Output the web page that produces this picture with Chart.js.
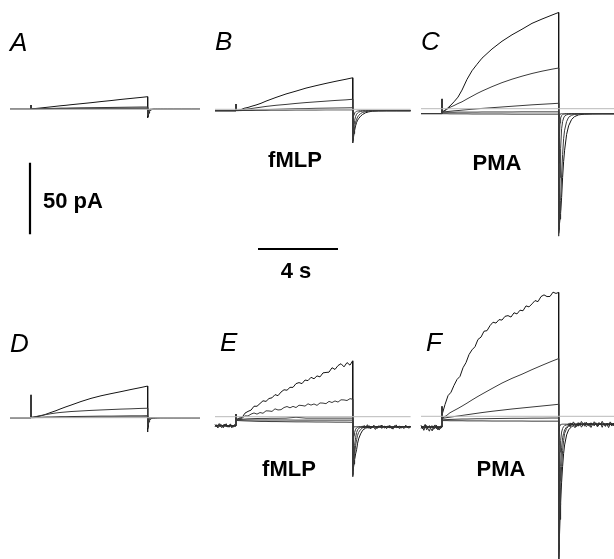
<!DOCTYPE html>
<html>
<head>
<meta charset="utf-8">
<script src="https://cdn.jsdelivr.net/npm/chart.js@4.4.1/dist/chart.umd.min.js"></script>
<style>
  html, body { margin: 0; padding: 0; background: #fff; }
  canvas { display: block; }
</style>
</head>
<body>
<canvas id="traces" width="614" height="559"></canvas>
<script>
// ---------- sample times (s) ----------
// Before the step (relative to step onset)
const PRE_T = [-1.05, -0.98, -0.91, -0.84, -0.77, -0.70, -0.63, -0.56, -0.49, -0.42, -0.35, -0.28, -0.21, -0.14, -0.07, 0];
// During the step (relative to step onset)
const PULSE_T = [0, 0.1, 0.25, 0.4, 0.6, 0.8, 1.0, 1.25, 1.5, 1.75, 2.0, 2.5, 3.0, 3.5, 4.0, 4.5, 5.0, 5.5, 5.83];
const NOISY_T = [0, 0.15, 0.3, 0.45, 0.6, 0.75, 0.9, 1.05, 1.2, 1.35, 1.5, 1.65, 1.8, 1.95, 2.1, 2.25, 2.4, 2.55, 2.7, 2.85,
                 3.0, 3.15, 3.3, 3.45, 3.6, 3.75, 3.9, 4.05, 4.2, 4.35, 4.5, 4.65, 4.8, 4.95, 5.1, 5.25, 5.4, 5.55, 5.7, 5.83];
// After the step (relative to step end)
const TAIL_T = [0, 0.01, 0.02, 0.04, 0.07, 0.1, 0.15, 0.2, 0.25, 0.3, 0.4, 0.5, 0.65, 0.8, 1.0, 1.3, 1.7, 2.2, 2.9];
const POST_T = [0.5, 0.58, 0.66, 0.74, 0.82, 0.9, 0.98, 1.06, 1.14, 1.22, 1.3, 1.38, 1.46, 1.54, 1.62, 1.7, 1.78, 1.86,
                1.94, 2.02, 2.1, 2.18, 2.26, 2.34, 2.42, 2.5, 2.58, 2.66, 2.74, 2.82, 2.9];
const STEP_END = 5.83;

// ---------- currents (pA) ----------
// A: control
const A_HOLD = 0, A_SPIKE = 3.0;
const A_PULSE_1 = [0.3, 0.4, 0.6, 0.8, 1.1, 1.4, 1.7, 2.1, 2.5, 2.8, 3.2, 3.9, 4.6, 5.4, 6.1, 6.9, 7.6, 8.3, 8.8];
const A_PULSE_2 = [0.1, 0.2, 0.3, 0.4, 0.5, 0.6, 0.6, 0.7, 0.8, 0.8, 0.9, 1.0, 1.1, 1.2, 1.3, 1.4, 1.5, 1.6, 1.6];
const A_PULSE_3 = [0.1, 0.2, 0.3, 0.4, 0.4, 0.5, 0.5, 0.5, 0.6, 0.6, 0.6, 0.7, 0.7, 0.7, 0.8, 0.8, 0.8, 0.9, 0.9];
const A_PULSE_4 = [0, 0.1, 0.1, 0.2, 0.2, 0.2, 0.2, 0.3, 0.3, 0.3, 0.3, 0.3, 0.3, 0.4, 0.4, 0.4, 0.4, 0.4, 0.4];
const A_TAIL_1 = [-6.0, -5.6, -5.1, -4.0, -2.6, -1.5, -0.7, -0.3, -0.1, 0, 0, 0, 0, 0, 0, 0, 0, 0, 0];
const A_TAIL_2 = [-4.5, -3.9, -3.3, -2.3, -1.3, -0.7, -0.3, -0.1, 0, 0, 0, 0, 0, 0, 0, 0, 0, 0, 0];
const A_TAIL_3 = [-3.0, -2.4, -1.8, -1.0, -0.4, -0.2, 0, 0, 0, 0, 0, 0, 0, 0, 0, 0, 0, 0, 0];
const A_TAIL_4 = [-1.8, -1.2, -0.7, -0.3, -0.1, 0, 0, 0, 0, 0, 0, 0, 0, 0, 0, 0, 0, 0, 0];

// B: fMLP
const B_HOLD = -1.0, B_SPIKE = 3.7;
const B_PULSE_1 = [-0.8, -0.7, -0.2, 0.7, 1.3, 2.2, 3.0, 4.2, 5.7, 7.0, 8.3, 10.7, 12.7, 14.8, 16.5, 18.1, 19.6, 21.0, 22.0];
const B_PULSE_2 = [-0.8, -0.7, -0.5, -0.2, 0.2, 0.6, 1.0, 1.5, 2.0, 2.4, 2.8, 3.4, 4.1, 4.7, 5.2, 5.7, 6.2, 6.6, 7.0];
const B_PULSE_3 = [-0.9, -0.9, -0.8, -0.7, -0.6, -0.5, -0.4, -0.3, -0.2, -0.1, 0, 0.2, 0.4, 0.5, 0.7, 0.8, 0.9, 1.0, 1.1];
const B_PULSE_4 = [-0.9, -0.9, -0.9, -0.8, -0.8, -0.8, -0.7, -0.7, -0.7, -0.6, -0.6, -0.6, -0.5, -0.5, -0.5, -0.4, -0.4, -0.4, -0.4];
const B_TAIL_1 = [-23.5, -23, -22, -20, -17, -14.5, -11.5, -9.2, -7.6, -6.5, -4.8, -3.6, -2.4, -1.8, -1.3, -1.1, -1.0, -1.0, -1.0];
const B_TAIL_2 = [-23, -22, -20.5, -18, -14.5, -12, -9, -7, -5.4, -4.3, -3.0, -2.2, -1.6, -1.3, -1.1, -1.0, -1.0, -1.0, -1.0];
const B_TAIL_3 = [-22, -20, -18, -14, -10, -7.8, -5.0, -3.5, -2.6, -2.0, -1.5, -1.2, -1.1, -1.0, -1.0, -1.0, -1.0, -1.0, -1.0];
const B_TAIL_4 = [-20, -13, -9, -5.5, -3.5, -2.5, -1.8, -1.4, -1.2, -1.1, -1.0, -1.0, -1.0, -1.0, -1.0, -1.0, -1.0, -1.0, -1.0];

// C: PMA
const C_HOLD = -3.4, C_SPIKE = 6.8;
const C_PULSE_1 = [-2.3, -1.5, 0, 1.9, 4.8, 8.1, 13.0, 20.5, 26.5, 31.0, 35.3, 41.7, 47.1, 51.6, 55.5, 59.6, 62.6, 65.4, 67.2];
const C_PULSE_2 = [-2.3, -1.8, -0.4, 1.0, 2.2, 3.6, 4.8, 6.8, 8.7, 10.6, 12.3, 15.4, 18.2, 20.6, 22.7, 24.6, 26.2, 27.6, 28.4];
const C_PULSE_3 = [-2.3, -2.2, -2.0, -1.8, -1.5, -1.3, -1.0, -0.7, -0.4, -0.1, 0.2, 0.7, 1.2, 1.7, 2.2, 2.7, 3.1, 3.5, 3.8];
const C_PULSE_4 = [-2.5, -2.5, -2.5, -2.5, -2.5, -2.4, -2.4, -2.4, -2.4, -2.4, -2.3, -2.3, -2.3, -2.3, -2.2, -2.2, -2.2, -2.2, -2.2];
const C_PULSE_5 = [-3.5, -3.5, -3.5, -3.6, -3.6, -3.6, -3.6, -3.6, -3.7, -3.7, -3.7, -3.7, -3.7, -3.8, -3.8, -3.8, -3.8, -3.8, -3.8];
const C_TAIL_1 = [-86, -85, -84, -81, -77, -73, -62, -48, -37, -29, -18, -12, -7.5, -5.5, -4.3, -3.8, -3.6, -3.5, -3.5];
const C_TAIL_2 = [-87, -85, -83, -79, -71, -64, -47, -32, -21, -15, -9, -6, -4.6, -4.0, -3.7, -3.6, -3.5, -3.5, -3.5];
const C_TAIL_3 = [-87, -80, -74, -64, -48, -28, -14, -9, -6.5, -5.2, -4.3, -3.9, -3.7, -3.6, -3.5, -3.5, -3.5, -3.5, -3.5];
const C_TAIL_4 = [-89, -60, -38, -20, -10, -6.5, -4.8, -4.1, -3.8, -3.7, -3.6, -3.5, -3.5, -3.5, -3.5, -3.5, -3.5, -3.5, -3.5];
const C_TAIL_5 = [-10, -7, -5.5, -4.3, -3.8, -3.6, -3.5, -3.5, -3.5, -3.5, -3.5, -3.5, -3.5, -3.5, -3.5, -3.5, -3.5, -3.5, -3.5];

// D: control
const D_HOLD = 0, D_SPIKE = 15.9;
const D_PULSE_1 = [0.2, 0.3, 0.6, 1.0, 1.7, 2.7, 3.7, 4.9, 6.3, 7.6, 8.8, 11.3, 13.5, 15.3, 16.8, 18.2, 19.7, 21.1, 22.1];
const D_PULSE_2 = [0.2, 0.4, 0.8, 1.3, 1.8, 2.3, 2.8, 3.3, 3.7, 4.0, 4.3, 4.7, 5.1, 5.4, 5.7, 6.0, 6.2, 6.5, 6.6];
const D_PULSE_3 = [0.2, 0.2, 0.3, 0.3, 0.4, 0.5, 0.5, 0.6, 0.7, 0.7, 0.8, 0.9, 1.0, 1.1, 1.1, 1.2, 1.3, 1.3, 1.4];
const D_PULSE_4 = [0, 0, 0.1, 0.1, 0.1, 0.2, 0.2, 0.2, 0.3, 0.3, 0.3, 0.3, 0.4, 0.4, 0.4, 0.5, 0.5, 0.5, 0.6];
const D_TAIL_1 = [-10, -8, -6.5, -4.5, -2.8, -1.8, -1.0, -0.6, -0.4, -0.3, -0.2, -0.1, 0, 0, 0, 0, 0, 0, 0];
const D_TAIL_2 = [-7, -5, -3.8, -2.4, -1.4, -0.8, -0.4, -0.2, 0, 0, 0, 0, 0, 0, 0, 0, 0, 0, 0];
const D_TAIL_3 = [-4.5, -3, -2, -1, -0.4, -0.2, 0, 0, 0, 0, 0, 0, 0, 0, 0, 0, 0, 0, 0];
const D_TAIL_4 = [-2.5, -1.5, -0.8, -0.3, 0, 0, 0, 0, 0, 0, 0, 0, 0, 0, 0, 0, 0, 0, 0];

// E: fMLP
const E_HOLD = -6.3, E_SPIKE = 1.7;
const E_PULSE_1 = [-2.3, -1.0, -0.6, 2.5, 3.7, 4.6, 7.3, 7.3, 9.2, 11.1, 10.7, 12.7, 13.2, 15.4, 14.7, 17.2, 18.8, 18.5, 20.5, 20.5,
                   23.1, 23.8, 23.1, 25.6, 25.2, 27.5, 26.5, 28.5, 27.8, 30.6, 30.9, 31.1, 34.2, 33.0, 35.7, 37.0, 34.8, 37.8, 36.0, 39.0];
const E_PULSE_2 = [-2.3, -1.2, -1.1, 0.6, 0.5, 1.8, 2.6, 1.8, 2.9, 2.4, 4.1, 4.0, 3.7, 5.5, 4.7, 4.9, 6.4, 7.1, 6.2, 7.2,
                   6.4, 8.0, 7.8, 7.4, 9.0, 8.1, 8.9, 7.9, 9.6, 9.5, 9.1, 10.7, 9.9, 11.0, 10.2, 11.8, 11.7, 11.3, 12.6, 12.2];
const E_PULSE_3 = [-2.3, -2.1, -1.9, -1.7, -1.5, -1.4, -1.3, -1.2, -1.2, -1.1, -1.1, -1.0, -0.4, -1.0, -1.0, -1.0, -1.0, -1.0, -1.0];
const E_PULSE_4 = [-2.3, -2.3, -2.3, -2.3, -2.3, -2.3, -2.3, -2.3, -2.3, -2.3, -2.3, -2.3, -2.4, -2.4, -2.4, -2.4, -2.4, -2.4, -2.4];
const E_PULSE_5 = [-2.6, -2.7, -2.8, -2.9, -3.0, -3.1, -3.2, -3.3, -3.3, -3.4, -3.4, -3.5, -3.6, -3.6, -3.7, -3.7, -3.8, -3.8, -3.9];
const E_TAIL_1 = [-40, -39, -38, -36, -33, -30, -26, -23, -18.5, -15.5, -12, -9.5, -8.0, -7.4, -7.1, -7.0, -7.0, -7.0, -7.0];
const E_TAIL_2 = [-41, -39, -37, -34, -29, -26, -20, -16, -13, -11, -8.9, -7.8, -7.3, -7.1, -7.0, -7.0, -7.0, -7.0, -7.0];
const E_TAIL_3 = [-41, -37, -34, -29, -25, -20, -14.5, -11, -9.2, -8.2, -7.5, -7.2, -7.1, -7.0, -7.0, -7.0, -7.0, -7.0, -7.0];
const E_TAIL_4 = [-42, -30, -23, -17, -13, -11, -8.8, -7.8, -7.4, -7.2, -7.1, -7.0, -7.0, -7.0, -7.0, -7.0, -7.0, -7.0, -7.0];
const E_TAIL_5 = [-12, -9.5, -8.5, -7.6, -7.2, -7.0, -7.0, -7.0, -7.0, -7.0, -7.0, -7.0, -7.0, -7.0, -7.0, -7.0, -7.0, -7.0, -7.0];
const E_PRE_NOISE_1 = [-5.4, -7.1, -5.9, -4.8, -6.9, -7.6, -5.6, -6.2, -4.9, -7.3, -6.0, -5.2, -7.8, -6.4, -5.5, -6.3];
const E_PRE_NOISE_2 = [-6.8, -5.6, -7.9, -6.6, -5.3, -6.1, -7.7, -5.1, -6.9, -6.2, -7.4, -5.8, -6.0, -7.2, -6.6, -6.3];
const E_POST_NOISE_1 = [-7.9, -6.1, -7.4, -5.6, -8.2, -6.6, -7.8, -5.9, -7.1, -8.4, -6.3, -7.6, -5.8, -7.2, -8.0, -6.5,
                        -7.7, -6.0, -8.3, -6.9, -7.5, -5.7, -7.9, -6.4, -8.1, -6.8, -7.3, -5.9, -7.6, -6.7, -7.0];
const E_POST_NOISE_2 = [-6.4, -8.0, -6.9, -7.8, -6.2, -8.6, -6.7, -7.4, -8.9, -6.5, -7.7, -6.1, -8.2, -7.0, -6.6, -8.4,
                        -6.3, -7.9, -7.1, -8.7, -6.2, -7.8, -6.9, -8.3, -6.5, -7.6, -8.2, -6.8, -7.4, -8.0, -7.0];

// F: PMA
const F_HOLD = -7.5, F_SPIKE = 6.7;
const F_PULSE_1 = [1.0, 8.2, 14.4, 16.8, 21.6, 25.7, 27.9, 33.9, 37.5, 43.1, 46.4, 48.6, 53.7, 55.3, 59.4, 59.8, 63.3, 65.7, 65.1, 67.5,
                   67.2, 69.8, 70.3, 69.3, 72.3, 71.5, 74.1, 73.7, 77.1, 76.4, 78.5, 80.8, 80.1, 83.6, 84.8, 83.6, 83.7, 86.7, 85.8, 86.5];
const F_PULSE_2 = [-1.5, -0.6, 0.8, 2.5, 4.0, 5.5, 7.1, 9.2, 11.4, 13.5, 15.5, 19.4, 23.2, 26.5, 29.4, 32.6, 35.6, 38.5, 40.3];
const F_PULSE_3 = [-1.5, -1.3, -0.9, -0.6, -0.2, 0.2, 0.6, 1.1, 1.6, 2.1, 2.6, 3.5, 4.3, 5.1, 5.8, 6.5, 7.2, 7.9, 8.4];
const F_PULSE_4 = [-2.5, -2.4, -2.3, -2.2, -2.1, -2.0, -1.9, -1.9, -1.8, -1.7, -1.7, -1.6, -1.5, -1.4, -1.4, -1.3, -1.3, -1.2, -1.2];
const F_PULSE_5 = [-3.0, -3.0, -3.0, -3.1, -3.1, -3.1, -3.1, -3.2, -3.2, -3.2, -3.2, -3.3, -3.3, -3.3, -3.3, -3.4, -3.4, -3.4, -3.4];
const F_TAIL_1 = [-102, -98, -93, -85, -72, -60, -46, -35, -26, -20, -13, -9.5, -7.2, -6.2, -5.7, -5.5, -5.5, -5.5, -5.5];
const F_TAIL_2 = [-104, -95, -82, -70, -62, -50, -35, -24, -17, -12, -8.5, -7.0, -6.1, -5.7, -5.5, -5.5, -5.5, -5.5, -5.5];
const F_TAIL_3 = [-105, -90, -78, -62, -45, -35, -22, -15, -12, -9.5, -7.4, -6.3, -5.8, -5.6, -5.5, -5.5, -5.5, -5.5, -5.5];
const F_TAIL_4 = [-106, -75, -58, -40, -25, -17, -11, -8.5, -7.2, -6.5, -6.0, -5.7, -5.6, -5.5, -5.5, -5.5, -5.5, -5.5, -5.5];
const F_TAIL_5 = [-20, -14, -10, -7.5, -6.2, -5.8, -5.6, -5.5, -5.5, -5.5, -5.5, -5.5, -5.5, -5.5, -5.5, -5.5, -5.5, -5.5, -5.5];
const F_PRE_NOISE_1 = [-6.2, -8.9, -7.1, -5.6, -9.4, -7.8, -6.5, -8.6, -10.2, -7.0, -6.0, -8.8, -7.4, -9.6, -6.8, -7.5];
const F_PRE_NOISE_2 = [-8.4, -6.9, -9.8, -7.6, -6.4, -8.9, -10.4, -7.2, -6.6, -9.1, -8.0, -6.1, -9.5, -7.7, -8.6, -7.5];
const F_POST_NOISE_1 = [-6.8, -4.6, -6.1, -3.9, -5.7, -7.2, -4.4, -6.5, -3.6, -5.2, -6.9, -4.1, -5.8, -7.0, -4.5, -6.2,
                        -3.8, -5.5, -6.8, -4.3, -6.0, -3.5, -5.6, -7.1, -4.7, -6.3, -3.9, -5.4, -6.6, -4.2, -5.5];
const F_POST_NOISE_2 = [-5.0, -7.3, -4.8, -6.4, -8.0, -5.5, -6.9, -4.6, -7.6, -5.9, -4.4, -7.2, -6.1, -4.9, -7.8, -5.3,
                        -6.7, -4.5, -7.4, -6.0, -5.1, -7.7, -4.8, -6.5, -5.6, -7.9, -5.2, -6.8, -4.7, -7.1, -5.8];

// Scale bars
const SCALE_CURRENT = 50; // pA
const SCALE_TIME = 4;     // s

// ---------- layout ----------
const W = 614, H = 559;
const PX_PER_S = 20;      // horizontal calibration
const PX_PER_PA = 1.432;  // vertical calibration

// Step onset (ox) and zero-current level (oy) of each panel, in canvas pixels
const PANELS = [
  { ox: 31,  oy: 109.3, end: 2.62, hold: A_HOLD, spike: A_SPIKE,
    traces: [[PULSE_T, A_PULSE_1, A_TAIL_1], [PULSE_T, A_PULSE_2, A_TAIL_2], [PULSE_T, A_PULSE_3, A_TAIL_3], [PULSE_T, A_PULSE_4, A_TAIL_4]] },
  { ox: 236, oy: 109.3, end: 2.9, hold: B_HOLD, spike: B_SPIKE,
    traces: [[PULSE_T, B_PULSE_1, B_TAIL_1], [PULSE_T, B_PULSE_2, B_TAIL_2], [PULSE_T, B_PULSE_3, B_TAIL_3], [PULSE_T, B_PULSE_4, B_TAIL_4]] },
  { ox: 442, oy: 108.7, end: 2.9, hold: C_HOLD, spike: C_SPIKE,
    traces: [[PULSE_T, C_PULSE_1, C_TAIL_1], [PULSE_T, C_PULSE_2, C_TAIL_2], [PULSE_T, C_PULSE_3, C_TAIL_3],
             [PULSE_T, C_PULSE_4, C_TAIL_4], [PULSE_T, C_PULSE_5, C_TAIL_5]] },
  { ox: 31,  oy: 417.7, end: 2.62, hold: D_HOLD, spike: D_SPIKE,
    traces: [[PULSE_T, D_PULSE_1, D_TAIL_1], [PULSE_T, D_PULSE_2, D_TAIL_2], [PULSE_T, D_PULSE_3, D_TAIL_3], [PULSE_T, D_PULSE_4, D_TAIL_4]] },
  { ox: 236, oy: 416.7, end: 2.9, hold: E_HOLD, spike: E_SPIKE,
    traces: [[NOISY_T, E_PULSE_1, E_TAIL_1], [NOISY_T, E_PULSE_2, E_TAIL_2], [PULSE_T, E_PULSE_3, E_TAIL_3],
             [PULSE_T, E_PULSE_4, E_TAIL_4], [PULSE_T, E_PULSE_5, E_TAIL_5]],
    pre: [E_PRE_NOISE_1, E_PRE_NOISE_2], post: [E_POST_NOISE_1, E_POST_NOISE_2] },
  { ox: 442, oy: 416.3, end: 2.9, hold: F_HOLD, spike: F_SPIKE,
    traces: [[NOISY_T, F_PULSE_1, F_TAIL_1], [PULSE_T, F_PULSE_2, F_TAIL_2], [PULSE_T, F_PULSE_3, F_TAIL_3],
             [PULSE_T, F_PULSE_4, F_TAIL_4], [PULSE_T, F_PULSE_5, F_TAIL_5]],
    pre: [F_PRE_NOISE_1, F_PRE_NOISE_2], post: [F_POST_NOISE_1, F_POST_NOISE_2] }
];

// panel-local (s, pA) -> shared chart coordinates
function at(p, t, i) {
  return { x: p.ox / PX_PER_S + t, y: -p.oy / PX_PER_PA + i };
}

function sweep(p, times, pulse, tail) {
  const pts = [at(p, PRE_T[0], p.hold), at(p, 0, p.hold), at(p, 0, p.spike)];
  times.forEach((t, k) => pts.push(at(p, t, pulse[k])));
  let last = tail[0];
  TAIL_T.forEach((dt, k) => {
    if (dt <= p.end) { pts.push(at(p, STEP_END + dt, tail[k])); last = tail[k]; }
  });
  pts.push(at(p, STEP_END + p.end, last));
  return pts;
}

const TRACE = '#141414';
const ZERO = '#b9b9b9';
const datasets = [];

PANELS.forEach(p => {
  datasets.push({ data: [at(p, PRE_T[0], 0), at(p, STEP_END + p.end, 0)], borderColor: ZERO, borderWidth: 1 });
});
PANELS.forEach(p => {
  (p.pre || []).forEach(vals => datasets.push({
    data: PRE_T.map((t, k) => at(p, t, vals[k])), borderColor: '#2a2a2a', borderWidth: 1 }));
  (p.post || []).forEach(vals => datasets.push({
    data: POST_T.map((dt, k) => at(p, STEP_END + dt, vals[k])), borderColor: '#2a2a2a', borderWidth: 1 }));
  p.traces.slice().reverse().forEach(([times, pulse, tail], k, arr) => datasets.push({
    data: sweep(p, times, pulse, tail),
    borderColor: k === arr.length - 1 ? TRACE : '#3a3a3a', borderWidth: 1 }));
});

// scale bars: 50 pA (vertical) and 4 s (horizontal)
const VBAR = { x: 30, top: 162.7 };
const HBAR = { left: 258, y: 249 };
datasets.push({
  data: [{ x: VBAR.x / PX_PER_S, y: -VBAR.top / PX_PER_PA }, { x: VBAR.x / PX_PER_S, y: -VBAR.top / PX_PER_PA - SCALE_CURRENT }],
  borderColor: '#000', borderWidth: 2.2 });
datasets.push({
  data: [{ x: HBAR.left / PX_PER_S, y: -HBAR.y / PX_PER_PA }, { x: HBAR.left / PX_PER_S + SCALE_TIME, y: -HBAR.y / PX_PER_PA }],
  borderColor: '#000', borderWidth: 2.2 });

const FONT = '"Liberation Sans", Arial, Helvetica, sans-serif';
const LETTERS = [['A', 10, 51], ['B', 215, 50], ['C', 421, 50], ['D', 10, 352], ['E', 220, 351], ['F', 426, 351]];
const NAMES = [['fMLP', 295, 167], ['PMA', 497, 169.5], ['fMLP', 289, 476], ['PMA', 501, 476]];

const labelPlugin = {
  id: 'panelLabels',
  afterDraw(chart) {
    const c = chart.ctx;
    c.save();
    c.fillStyle = '#000';
    c.textBaseline = 'alphabetic';
    c.font = 'italic 26px ' + FONT;
    c.textAlign = 'left';
    LETTERS.forEach(([s, x, y]) => c.fillText(s, x, y));
    c.font = 'bold 22px ' + FONT;
    c.textAlign = 'center';
    NAMES.forEach(([s, x, y]) => c.fillText(s, x, y));
    c.fillText(SCALE_TIME + ' s', 296, 277.5);
    c.textAlign = 'left';
    c.fillText(SCALE_CURRENT + ' pA', 43, 207.5);
    c.restore();
  }
};

new Chart(document.getElementById('traces'), {
  type: 'line',
  data: { datasets },
  options: {
    responsive: false,
    animation: false,
    devicePixelRatio: 1,
    layout: { padding: 0 },
    scales: {
      x: { type: 'linear', min: 0, max: W / PX_PER_S, display: false },
      y: { type: 'linear', min: -H / PX_PER_PA, max: 0, display: false }
    },
    elements: { point: { radius: 0 }, line: { tension: 0, borderWidth: 1, fill: false } },
    plugins: { legend: { display: false }, tooltip: { enabled: false } }
  },
  plugins: [labelPlugin]
});
</script>
</body>
</html>
